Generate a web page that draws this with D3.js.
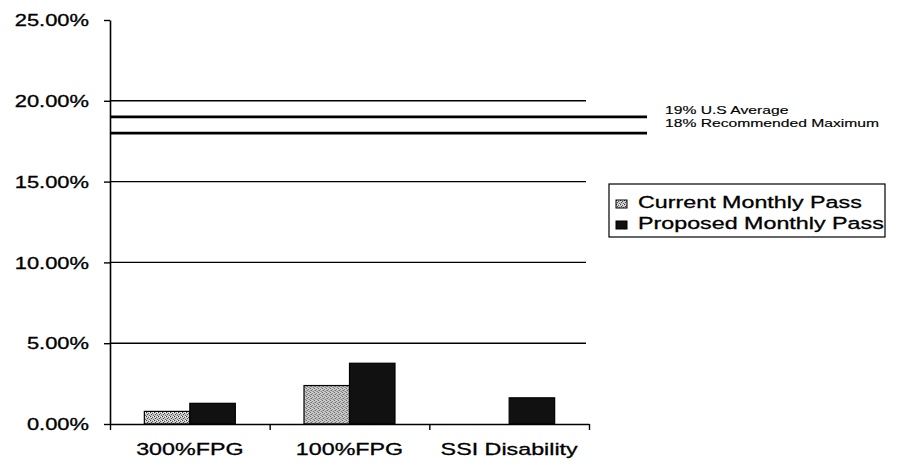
<!DOCTYPE html>
<html><head><meta charset="utf-8">
<script src="https://cdn.jsdelivr.net/npm/d3@7"></script>
<style>
body{margin:0;background:#fff}
svg{display:block}
text{font-family:"Liberation Sans",Arial,sans-serif;fill:#000;stroke:#000;stroke-width:0.3px}
</style>
</head><body>
<svg id="c" width="897" height="466"></svg>
<script>
// ---- data ----
const categories = ["300%FPG", "100%FPG", "SSI Disability"];
const seriesNames = ["Current Monthly Pass", "Proposed Monthly Pass"];
const currentPass = [0.0078, 0.0238, null];
const proposedPass = [0.0128, 0.0376, 0.0162];
const yTickValues = [0, 0.05, 0.10, 0.15, 0.20, 0.25];
const refValues = [0.19, 0.18];
const refLabels = ["19% U.S Average", "18% Recommended Maximum"];

// ---- layout ----
const svg = d3.select("#c");
const mLeft = 110, mRight = 589, mTop = 20, mBottom = 424;

const defs = svg.append("defs");
const pat = defs.append("pattern").attr("id", "stip")
  .attr("width", 4).attr("height", 4).attr("patternUnits", "userSpaceOnUse");
pat.append("rect").attr("width", 4).attr("height", 4).attr("fill", "#c8c8c8");
pat.append("rect").attr("x", 0).attr("y", 0).attr("width", 1).attr("height", 1).attr("fill", "#333");
pat.append("rect").attr("x", 2).attr("y", 1).attr("width", 1).attr("height", 1).attr("fill", "#555");
pat.append("rect").attr("x", 1).attr("y", 2).attr("width", 1).attr("height", 1).attr("fill", "#444");
pat.append("rect").attr("x", 3).attr("y", 3).attr("width", 1).attr("height", 1).attr("fill", "#666");
pat.append("rect").attr("x", 3).attr("y", 0).attr("width", 1).attr("height", 1).attr("fill", "#fff");
pat.append("rect").attr("x", 1).attr("y", 1).attr("width", 1).attr("height", 1).attr("fill", "#eee");

const fills = ["url(#stip)", "#111"];

const x0 = d3.scaleBand().domain(categories).range([mLeft, mRight]).paddingInner(0).paddingOuter(0);
const x1 = d3.scaleBand().domain(seriesNames).range([0, x0.bandwidth()]).paddingInner(0).paddingOuter(0.755);
const y = d3.scaleLinear().domain([0, 0.25]).range([mBottom, mTop]);

// gridlines
svg.append("g").selectAll("line").data(yTickValues.filter(v => v > 0 && v < 0.25)).join("line")
  .attr("x1", mLeft).attr("x2", mRight - 3)
  .attr("y1", d => y(d)).attr("y2", d => y(d))
  .attr("stroke", "#000").attr("stroke-width", 1.4);

// reference lines
svg.append("g").selectAll("line").data(refValues).join("line")
  .attr("x1", mLeft).attr("x2", 647)
  .attr("y1", d => y(d)).attr("y2", d => y(d))
  .attr("stroke", "#000").attr("stroke-width", 2.8);

svg.append("g").selectAll("text").data(refValues).join("text")
  .attr("transform", (d, i) => `translate(665,${y(refValues[0]) - 3 + i * 12.8}) scale(1.4,1)`)
  .attr("font-size", 11.2)
  .style("stroke-width", "0.15px")
  .text((d, i) => refLabels[i]);

// bars
const rows = categories.map((c, i) => ({cat: c, vals: [currentPass[i], proposedPass[i]]}));
svg.append("g").selectAll("g").data(rows).join("g")
  .attr("transform", d => `translate(${x0(d.cat)},0)`)
  .selectAll("rect")
  .data(d => d.vals.map((v, j) => ({s: seriesNames[j], v, j})).filter(e => e.v != null))
  .join("rect")
  .attr("x", d => x1(d.s))
  .attr("width", x1.bandwidth())
  .attr("y", d => y(d.v))
  .attr("height", d => y(0) - y(d.v))
  .attr("fill", d => fills[d.j])
  .attr("stroke", "#000").attr("stroke-width", 1.2);

// y axis
const yAxis = svg.append("g").attr("transform", `translate(${mLeft},0)`)
  .call(d3.axisLeft(y).tickValues(yTickValues).tickFormat(d3.format(".2%")).tickSize(6).tickSizeOuter(0));
yAxis.select(".domain").attr("stroke-width", 1.6);
yAxis.selectAll(".tick line").attr("stroke-width", 1.4);
yAxis.selectAll(".tick text")
  .attr("x", 0).attr("dy", "0.36em")
  .attr("transform", "translate(-21,0) scale(1.37,1)")
  .attr("font-size", 16).attr("font-family", "Liberation Sans, Arial, sans-serif");

// x axis
const xTickScale = d3.scaleLinear().domain([0, categories.length]).range([mLeft, mRight]);
const xAxisBase = svg.append("g").attr("transform", `translate(0,${mBottom})`)
  .call(d3.axisBottom(xTickScale).tickValues(d3.range(categories.length + 1)).tickSize(6).tickSizeOuter(0).tickFormat(""));
xAxisBase.select(".domain").attr("stroke-width", 1.6);
xAxisBase.selectAll(".tick line").attr("stroke-width", 1.4);

const xAxis = svg.append("g").attr("transform", `translate(0,${mBottom})`)
  .call(d3.axisBottom(x0).tickSize(0).tickPadding(0));
xAxis.select(".domain").remove();
xAxis.selectAll(".tick text")
  .attr("y", 0).attr("dy", 0)
  .attr("transform", "translate(0,31) scale(1.37,1)")
  .attr("font-size", 17).attr("font-family", "Liberation Sans, Arial, sans-serif");

// legend
const lg = svg.append("g");
lg.append("rect").attr("x", 609).attr("y", 184).attr("width", 276).attr("height", 53)
  .attr("fill", "#fff").attr("stroke", "#000").attr("stroke-width", 1.2);
const items = lg.selectAll("g").data(seriesNames).join("g")
  .attr("transform", (d, i) => `translate(616,${200 + i * 21})`);
items.append("rect").attr("width", 11).attr("height", 8)
  .attr("fill", (d, i) => fills[i]).attr("stroke", "#000").attr("stroke-width", 1);
items.append("text")
  .attr("transform", "translate(22,8) scale(1.37,1)")
  .attr("font-size", 17)
  .text(d => d);
</script>
</body></html>
